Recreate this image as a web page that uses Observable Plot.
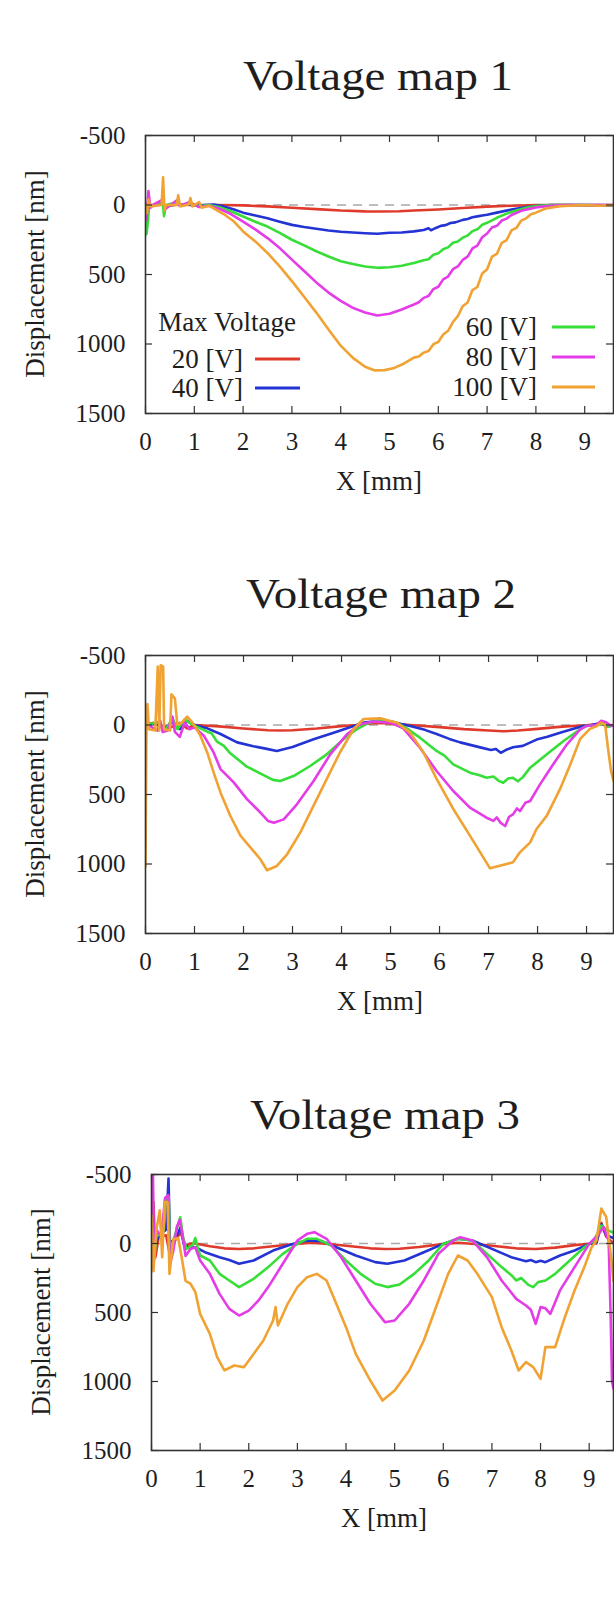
<!DOCTYPE html>
<html><head><meta charset="utf-8">
<script src="https://cdn.jsdelivr.net/npm/d3@7"></script>
<script src="https://cdn.jsdelivr.net/npm/@observablehq/plot@0.6"></script>
<style>
html,body{margin:0;padding:0;background:#fff;}
#root{position:relative;width:614px;height:1598px;overflow:hidden;background:#fff;}
</style></head><body><div id="root"></div>
<script>
const voltages = ["20 [V]", "40 [V]", "60 [V]", "80 [V]", "100 [V]"];
const colors = ["#e03a2c", "#2434d4", "#38de38", "#e43ce6", "#f0a232"];
const titles = ["Voltage map 1", "Voltage map 2", "Voltage map 3"];
const yTicks = [-500, 0, 500, 1000, 1500];
const xTicks = [0, 1, 2, 3, 4, 5, 6, 7, 8, 9];
const legendTitle = "Max Voltage";

// ---- Voltage map 1: [X mm, displacement nm]
const m1_20 = [[0,0],[0.05,-10],[0.1,5],[0.34,-12],[0.4,6],[0.7,-4],[1.0,2],[1.5,0],[2.0,3],[2.5,10],[3.0,20],[3.5,30],[4.0,40],[4.5,46],[4.8,47],[5.2,45],[5.5,40],[6.0,32],[6.5,22],[7.0,12],[7.5,5],[8.0,1],[8.5,0],[9.0,2],[9.6,0]];
const m1_40 = [[0,0],[0.03,30],[0.06,-20],[0.1,10],[0.35,-25],[0.4,15],[0.66,-10],[0.7,5],[0.92,-8],[1.0,5],[1.2,0],[1.4,-3],[1.6,10],[1.8,30],[2.0,55],[2.25,75],[2.5,95],[2.75,120],[3.0,143],[3.25,158],[3.5,171],[3.75,183],[4.0,193],[4.25,198],[4.5,203],[4.75,207],[5.0,200],[5.25,198],[5.5,190],[5.7,180],[5.8,168],[5.85,182],[5.95,165],[6.05,150],[6.15,145],[6.25,130],[6.35,125],[6.5,107],[6.6,100],[6.7,88],[6.8,82],[6.9,75],[7.0,70],[7.2,55],[7.5,33],[7.8,15],[8.0,7],[8.3,0],[9.0,0],[9.6,3]];
const m1_60 = [[0,0],[0.02,210],[0.05,120],[0.08,-20],[0.12,10],[0.35,-30],[0.38,80],[0.42,0],[0.65,-20],[0.7,5],[0.9,-10],[1.1,10],[1.3,0],[1.5,15],[1.75,45],[2.0,83],[2.25,120],[2.5,155],[2.75,200],[3.0,250],[3.25,290],[3.5,333],[3.75,370],[4.0,405],[4.25,425],[4.5,442],[4.75,452],[5.0,448],[5.25,437],[5.5,417],[5.7,398],[5.8,390],[5.9,358],[6.0,348],[6.1,318],[6.2,305],[6.3,272],[6.4,262],[6.5,235],[6.6,220],[6.7,188],[6.8,175],[6.9,142],[7.0,128],[7.2,92],[7.4,62],[7.6,40],[7.8,20],[8.0,7],[8.3,0],[9.0,0],[9.6,2]];
const m1_80 = [[0,0],[0.02,110],[0.06,-100],[0.1,20],[0.15,0],[0.36,-40],[0.4,30],[0.65,-35],[0.7,5],[0.9,-20],[1.1,15],[1.3,5],[1.5,25],[1.75,65],[2.0,119],[2.25,175],[2.5,238],[2.75,310],[3.0,393],[3.25,475],[3.5,557],[3.75,630],[4.0,690],[4.25,740],[4.5,774],[4.75,795],[5.0,782],[5.25,752],[5.5,716],[5.6,700],[5.7,668],[5.8,655],[5.9,605],[6.0,588],[6.1,535],[6.2,515],[6.3,462],[6.4,442],[6.5,395],[6.6,372],[6.7,312],[6.8,292],[6.9,232],[7.0,205],[7.1,162],[7.2,150],[7.3,112],[7.4,98],[7.5,72],[7.7,42],[8.0,17],[8.3,5],[8.6,0],[9.6,0]];
const m1_100 = [[0,0],[0.03,60],[0.06,-40],[0.1,10],[0.33,0],[0.36,-200],[0.39,40],[0.42,0],[0.64,0],[0.67,-70],[0.71,10],[0.89,-5],[0.92,-50],[0.96,10],[1.1,-20],[1.15,20],[1.3,5],[1.45,35],[1.6,65],[1.8,115],[2.0,190],[2.25,262],[2.5,345],[2.75,442],[3.0,548],[3.25,660],[3.5,774],[3.75,895],[4.0,1012],[4.25,1100],[4.5,1164],[4.7,1190],[4.9,1188],[5.1,1172],[5.3,1140],[5.5,1098],[5.6,1090],[5.7,1062],[5.8,1050],[5.9,1002],[6.0,985],[6.1,932],[6.2,905],[6.3,842],[6.4,800],[6.5,728],[6.6,702],[6.7,612],[6.8,590],[6.9,492],[7.0,462],[7.1,372],[7.2,352],[7.3,272],[7.4,252],[7.5,182],[7.6,165],[7.7,112],[7.8,96],[7.9,66],[8.0,55],[8.2,25],[8.5,8],[9.0,0],[9.3,5],[9.6,0]];

// ---- Voltage map 2
const m2_20 = [[0,0],[0.15,-15],[0.3,10],[0.5,20],[0.7,-15],[0.85,25],[1.0,0],[1.5,10],[2.0,25],[2.5,38],[2.75,40],[3.0,38],[3.5,25],[4.0,8],[4.3,0],[4.5,-10],[4.8,-15],[5.1,-8],[5.4,0],[6.0,15],[6.5,30],[7.0,40],[7.3,45],[7.6,40],[8.0,28],[8.5,12],[9.0,2],[9.3,-10],[9.4,5],[9.55,0]];
const m2_40 = [[0,0],[0.2,-10],[0.4,20],[0.55,-20],[0.7,30],[0.85,-30],[1.0,0],[1.26,24],[1.53,65],[1.87,125],[2.2,153],[2.45,170],[2.68,187],[3.0,158],[3.43,103],[3.84,55],[4.25,7],[4.45,-17],[4.75,-28],[5.0,-25],[5.2,-8],[5.4,7],[5.7,35],[5.94,65],[6.2,100],[6.42,125],[6.83,161],[7.05,180],[7.15,172],[7.25,200],[7.35,180],[7.5,160],[7.7,150],[7.98,105],[8.2,85],[8.46,55],[8.7,30],[8.93,7],[9.1,0],[9.3,-15],[9.4,10],[9.55,5]];
const m2_60 = [[0,0],[0.25,-20],[0.4,40],[0.55,-50],[0.65,30],[0.8,-40],[0.9,-15],[1.0,5],[1.26,48],[1.35,60],[1.46,120],[1.6,150],[1.73,204],[2.07,300],[2.41,360],[2.6,395],[2.75,403],[3.02,367],[3.36,295],[3.7,211],[4.04,103],[4.31,31],[4.52,-10],[4.8,-38],[5.1,-20],[5.33,24],[5.6,91],[5.94,187],[6.1,220],[6.28,283],[6.62,343],[6.8,360],[6.96,379],[7.1,370],[7.2,400],[7.3,415],[7.4,385],[7.5,380],[7.6,405],[7.7,375],[7.85,307],[8.19,211],[8.53,115],[8.87,31],[9.0,7],[9.2,0],[9.35,-10],[9.45,10],[9.55,0]];
const m2_80 = [[0,0],[0.1,10],[0.25,40],[0.3,-30],[0.35,50],[0.45,40],[0.55,-60],[0.6,50],[0.7,85],[0.8,-20],[0.9,30],[1.0,17],[1.19,77],[1.39,197],[1.53,317],[1.8,413],[2.07,533],[2.34,628],[2.5,690],[2.62,703],[2.82,679],[3.09,571],[3.43,403],[3.77,211],[4.11,67],[4.38,-5],[4.65,-25],[5.0,-17],[5.26,24],[5.6,163],[5.94,331],[6.28,475],[6.62,595],[6.96,667],[7.1,690],[7.17,665],[7.25,705],[7.34,727],[7.42,660],[7.5,643],[7.58,600],[7.64,620],[7.75,560],[7.85,547],[8.05,427],[8.32,283],[8.6,139],[8.87,31],[9.0,7],[9.2,0],[9.3,-30],[9.4,-20],[9.5,5],[9.55,0]];
const m2_100 = [[0,1020],[0.02,0],[0.04,-150],[0.07,30],[0.2,40],[0.25,-420],[0.28,40],[0.31,-430],[0.36,-420],[0.38,30],[0.5,40],[0.53,-220],[0.6,-190],[0.65,0],[0.75,-20],[0.85,-60],[0.95,-20],[1.0,5],[1.12,77],[1.26,197],[1.39,341],[1.53,485],[1.73,653],[1.94,797],[2.14,880],[2.34,964],[2.48,1045],[2.68,1014],[2.89,930],[3.16,772],[3.43,580],[3.7,388],[3.97,196],[4.25,29],[4.45,-43],[4.79,-48],[5.13,-17],[5.4,55],[5.67,196],[5.94,388],[6.28,604],[6.62,796],[6.83,916],[7.03,1031],[7.23,1012],[7.5,988],[7.64,916],[7.85,844],[7.98,748],[8.19,652],[8.46,460],[8.66,292],[8.87,100],[9.07,28],[9.2,10],[9.3,-17],[9.38,0],[9.45,200],[9.5,330],[9.55,400]];

// ---- Voltage map 3
const m3_20 = [[0,0],[0.04,-300],[0.08,100],[0.15,-50],[0.3,-60],[0.36,50],[0.5,-30],[0.6,-80],[0.7,20],[0.8,0],[0.9,0],[1.2,20],[1.5,35],[1.8,40],[2.1,35],[2.5,20],[2.9,5],[3.3,-5],[3.7,5],[4.1,20],[4.5,35],[4.8,40],[5.1,38],[5.5,25],[5.9,8],[6.3,-5],[6.7,5],[7.1,20],[7.5,35],[7.9,40],[8.3,30],[8.7,12],[9.0,2],[9.15,0],[9.25,-150],[9.35,-50],[9.5,0]];
const m3_40 = [[0,0],[0.05,50],[0.15,-60],[0.3,-100],[0.35,-470],[0.38,0],[0.5,-40],[0.6,-120],[0.66,0],[0.75,30],[0.9,27],[1.1,63],[1.4,100],[1.6,120],[1.8,147],[2.1,123],[2.5,51],[2.9,3],[3.2,-22],[3.5,-17],[3.8,27],[4.2,87],[4.6,135],[4.85,147],[5.2,123],[5.6,63],[6.0,3],[6.3,-34],[6.6,-22],[7.0,39],[7.4,100],[7.7,128],[7.8,120],[7.9,135],[8.0,125],[8.1,135],[8.4,87],[8.7,51],[9.0,3],[9.15,-10],[9.25,-140],[9.35,-60],[9.5,-40]];
const m3_60 = [[0,-50],[0.04,150],[0.1,-50],[0.25,-100],[0.3,-330],[0.35,-340],[0.38,50],[0.5,-80],[0.59,-190],[0.65,-40],[0.72,40],[0.85,10],[0.9,-40],[0.95,30],[1.0,87],[1.2,123],[1.4,220],[1.6,268],[1.8,316],[2.1,256],[2.4,171],[2.7,75],[3.0,3],[3.2,-34],[3.4,-34],[3.7,15],[4.0,123],[4.3,220],[4.6,292],[4.85,316],[5.1,297],[5.4,220],[5.7,123],[6.0,3],[6.3,-34],[6.6,-22],[6.9,75],[7.2,171],[7.4,230],[7.5,268],[7.6,250],[7.75,300],[7.85,316],[7.95,280],[8.1,268],[8.3,220],[8.6,123],[8.9,27],[9.1,-22],[9.25,-130],[9.35,-100],[9.5,-80]];
const m3_80 = [[0,-500],[0.03,-500],[0.05,60],[0.1,-100],[0.2,-50],[0.28,-330],[0.34,-350],[0.38,150],[0.45,50],[0.52,-120],[0.58,-170],[0.64,-60],[0.7,90],[0.8,40],[0.9,27],[1.0,123],[1.2,220],[1.4,365],[1.6,474],[1.8,522],[2.0,486],[2.2,413],[2.4,316],[2.7,147],[3.0,-22],[3.2,-70],[3.35,-82],[3.6,-34],[3.9,100],[4.2,268],[4.5,437],[4.8,570],[5.0,558],[5.3,437],[5.6,268],[5.9,75],[6.2,-22],[6.35,-46],[6.6,-22],[6.9,100],[7.2,268],[7.5,401],[7.7,449],[7.8,480],[7.9,582],[8.0,461],[8.1,470],[8.2,510],[8.4,340],[8.7,171],[9.0,3],[9.2,-70],[9.3,-119],[9.4,-22],[9.44,500],[9.47,1000],[9.5,1050]];
const m3_100 = [[0,-200],[0.04,200],[0.1,-100],[0.17,-240],[0.22,100],[0.27,-300],[0.33,-300],[0.37,220],[0.45,-30],[0.55,-40],[0.62,100],[0.7,270],[0.8,290],[0.9,350],[1.0,510],[1.2,655],[1.35,824],[1.5,920],[1.7,884],[1.9,896],[2.1,800],[2.3,703],[2.5,558],[2.55,461],[2.6,594],[2.8,437],[3.0,316],[3.2,244],[3.4,220],[3.6,268],[3.8,437],[4.0,606],[4.2,800],[4.5,993],[4.75,1138],[5.0,1065],[5.3,920],[5.6,703],[5.9,413],[6.1,220],[6.3,87],[6.5,123],[6.7,220],[7.0,389],[7.2,606],[7.4,775],[7.55,920],[7.7,860],[7.85,896],[8.0,981],[8.1,751],[8.3,751],[8.5,534],[8.7,340],[8.9,171],[9.05,27],[9.15,-22],[9.25,-253],[9.35,-192],[9.45,100],[9.5,270]];

const maps = [
  [m1_20, m1_40, m1_60, m1_80, m1_100],
  [m2_20, m2_40, m2_60, m2_80, m2_100],
  [m3_20, m3_40, m3_60, m3_80, m3_100]
];

// layout (pixels)
const layout = [
  {top: 0,    height: 520, mt: 135, mb: 107, ml: 145, xMax: 9.59, titleX: 378, titleY: 90, xlabX: 379, ylabX: 44},
  {top: 520,  height: 520, mt: 135, mb: 107, ml: 145, xMax: 9.55, titleX: 381, titleY: 88, xlabX: 380, ylabX: 44},
  {top: 1040, height: 558, mt: 134, mb: 148, ml: 151, xMax: 9.50, titleX: 385, titleY: 89, xlabX: 384, ylabX: 50}
];
const FONT = "'Liberation Serif', 'Times New Roman', 'DejaVu Serif', serif";
const root = document.getElementById("root");

maps.forEach((series, k) => {
  const c = layout[k];
  const W = 614, mr = 1;
  const fh = c.height - c.mt - c.mb;
  const fw = W - c.ml - mr;
  const tk = 7;
  const plot = Plot.plot({
    width: W, height: c.height,
    marginTop: c.mt, marginBottom: c.mb, marginLeft: c.ml, marginRight: mr,
    style: {fontFamily: FONT, fontSize: "25px", color: "#1e1e1e", background: "transparent", overflow: "visible"},
    x: {domain: [0, c.xMax]},
    y: {domain: [-500, 1500], reverse: true},
    marks: [
      Plot.ruleY([0], {stroke: "#a8a8a8", strokeWidth: 1.4, strokeDasharray: "9,7"}),
      ...series.map((pts, i) => Plot.line(pts, {x: d => d[0], y: d => d[1], stroke: colors[i], strokeWidth: 2.6, clip: true})),
      Plot.ruleX(xTicks, {stroke: "#333", strokeWidth: 1.2, insetTop: fh - tk}),
      Plot.ruleX(xTicks, {stroke: "#333", strokeWidth: 1.2, insetBottom: fh - tk}),
      Plot.ruleY(yTicks, {stroke: "#333", strokeWidth: 1.2, insetRight: fw - tk}),
      Plot.ruleY(yTicks, {stroke: "#333", strokeWidth: 1.2, insetLeft: fw - tk}),
      Plot.frame({stroke: "#333", strokeWidth: 1.6}),
      Plot.axisX({ticks: xTicks, tickSize: 0, tickPadding: 19, tickFormat: d => String(d), label: null}),
      Plot.axisY({ticks: yTicks, tickSize: 0, tickPadding: 20, tickFormat: d => String(d), label: null})
    ]
  });
  plot.style.position = "absolute";
  plot.style.left = "0px";
  plot.style.top = c.top + "px";
  const svg = d3.select(plot);
  svg.append("text")
    .attr("x", c.titleX).attr("y", c.titleY)
    .attr("text-anchor", "middle").attr("font-size", 43)
    .attr("textLength", 270).attr("lengthAdjust", "spacingAndGlyphs")
    .attr("fill", "#1e1e1e").text(titles[k]);
  svg.append("text")
    .attr("x", c.xlabX).attr("y", c.height - c.mb + 77)
    .attr("text-anchor", "middle").attr("font-size", 27)
    .attr("fill", "#1e1e1e").text("X [mm]");
  svg.append("text")
    .attr("transform", `translate(${c.ylabX},${c.mt + fh / 2}) rotate(-90)`)
    .attr("text-anchor", "middle").attr("font-size", 27)
    .attr("fill", "#1e1e1e").text("Displacement [nm]");

  if (k === 0) {
    const g = svg.append("g").attr("font-size", 27).attr("fill", "#1e1e1e");
    g.append("text").attr("x", 227).attr("y", 331).attr("text-anchor", "middle").text(legendTitle);
    const entries = [
      {i: 0, tx: 243, y: 359, x1: 255, x2: 300},
      {i: 1, tx: 243, y: 388, x1: 255, x2: 300},
      {i: 2, tx: 537, y: 327, x1: 552, x2: 595},
      {i: 3, tx: 537, y: 357, x1: 552, x2: 595},
      {i: 4, tx: 537, y: 387, x1: 552, x2: 595}
    ];
    entries.forEach(e => {
      g.append("text").attr("x", e.tx).attr("y", e.y + 9).attr("text-anchor", "end").text(voltages[e.i]);
      g.append("line").attr("x1", e.x1).attr("x2", e.x2).attr("y1", e.y).attr("y2", e.y)
        .attr("stroke", colors[e.i]).attr("stroke-width", 3.2);
    });
  }
  root.appendChild(plot);
});
</script>
</body></html>
